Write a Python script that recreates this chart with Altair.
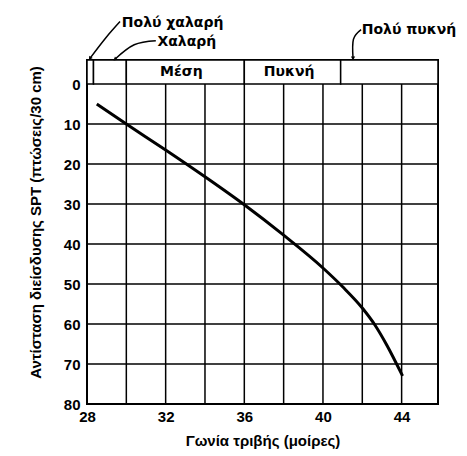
import altair as alt
import pandas as pd

# --- data ---
curve_x = [28.5, 30.0, 32.0, 34.0, 36.0, 38.0, 40.0, 41.0, 42.0, 42.65, 43.25, 44.05]
curve_y = [5.0, 10.0, 16.5, 23.2, 30.2, 37.8, 46.0, 50.7, 56.0, 60.3, 65.3, 73.0]

band_start = [28.0, 28.33, 30.0, 36.0, 40.9]
band_end = [28.33, 30.0, 36.0, 40.9, 45.85]

band_label = ["Μέση", "Πυκνή"]
band_label_x = [32.8, 38.28]

ann_text = ["Πολύ χαλαρή", "Χαλαρή", "Πολύ πυκνή"]
ann_x = [29.77, 31.58, 41.97]
ann_y = [-15.3, -10.6, -13.5]

leader_group = ["a", "a", "a", "b", "b", "b", "c", "c", "c"]
leader_x = [29.68, 28.95, 28.15, 31.50, 30.40, 29.42, 41.94, 41.55, 41.53]
leader_y = [-15.6, -11.5, -6.4, -10.8, -9.8, -6.2, -13.6, -11.2, -6.4]
arrow_angle = [35, 50, 0]

x_ticks = [28, 32, 36, 40, 44]
x_grid = [30, 32, 34, 36, 38, 40, 42, 44]
y_ticks = [0, 10, 20, 30, 40, 50, 60, 70, 80]
y_grid = [10, 20, 30, 40, 50, 60, 70]

X_DOMAIN = [28, 45.85]
Y_DOMAIN = [-6, 80]
FONT = "Liberation Sans"
AFONT = "DejaVu Sans"

xs = alt.Scale(domain=X_DOMAIN, nice=False, zero=False)
ys = alt.Scale(domain=Y_DOMAIN, nice=False, zero=False, reverse=True)

curve_df = pd.DataFrame({"x": curve_x, "y": curve_y})
band_df = pd.DataFrame({"x": band_start, "x2": band_end})
blabel_df = pd.DataFrame({"t": band_label, "x": band_label_x})
ann_df = pd.DataFrame({"t": ann_text, "x": ann_x, "y": ann_y})
leader_df = pd.DataFrame({"g": leader_group, "x": leader_x, "y": leader_y,
                          "o": list(range(len(leader_x)))})
arrow_df = pd.DataFrame({"x": leader_x[2::3], "y": leader_y[2::3], "a": arrow_angle})
vgrid_df = pd.DataFrame({"x": x_grid})
hgrid_df = pd.DataFrame({"y": y_grid})

base_x = alt.X("x:Q", scale=xs, axis=alt.Axis(
    values=x_ticks, title="Γωνία τριβής (μοίρες)", grid=False, domain=False,
    ticks=False, labelPadding=5, labelFontSize=15, labelFontWeight="bold",
    labelFont=FONT, labelColor="black", titleFont=FONT, titleFontSize=15,
    titleFontWeight="bold", titleColor="black", titlePadding=9, labelFlush=False))
base_y = alt.Y("y:Q", scale=ys, axis=alt.Axis(
    values=y_ticks, title="Αντίσταση διείσδυσης SPT (πτώσεις/30 cm)", grid=False,
    domain=False, ticks=False, labelPadding=7, labelFontSize=15, labelFontWeight="bold",
    labelFont=FONT, labelColor="black", titleFont=FONT, titleFontSize=15,
    titleFontWeight="bold", titleColor="black", titlePadding=20, titleY=162,
    labelFlush=False))

vgrid = alt.Chart(vgrid_df).mark_rule(color="black", strokeWidth=1.5).encode(
    x=alt.X("x:Q", scale=xs), y=alt.datum(0), y2=alt.datum(80))
hgrid = alt.Chart(hgrid_df).mark_rule(color="black", strokeWidth=1.5).encode(
    y=alt.Y("y:Q", scale=ys), x=alt.datum(X_DOMAIN[0]), x2=alt.datum(X_DOMAIN[1]))

band = alt.Chart(band_df).mark_rect(fill="white", stroke="black", strokeWidth=1.5).encode(
    x=alt.X("x:Q", scale=xs), x2="x2:Q", y=alt.datum(-6), y2=alt.datum(0))

blabels = alt.Chart(blabel_df).mark_text(
    font=AFONT, fontSize=14, fontWeight="bold", color="black").encode(
    x=alt.X("x:Q", scale=xs), y=alt.datum(-3), text="t:N")

curve = alt.Chart(curve_df).mark_line(
    color="black", strokeWidth=3, interpolate="monotone").encode(x=base_x, y=base_y)

ann = alt.Chart(ann_df).mark_text(
    font=AFONT, fontSize=14, fontWeight="bold", color="black", align="left").encode(
    x=alt.X("x:Q", scale=xs), y=alt.Y("y:Q", scale=ys), text="t:N")

leaders = alt.Chart(leader_df).mark_line(
    color="black", strokeWidth=1.5, interpolate="cardinal", clip=False).encode(
    x=alt.X("x:Q", scale=xs), y=alt.Y("y:Q", scale=ys), detail="g:N", order="o:Q")

arrows = alt.Chart(arrow_df).mark_point(
    shape="triangle-down", size=18, filled=True, color="black", opacity=1, clip=False).encode(
    x=alt.X("x:Q", scale=xs), y=alt.Y("y:Q", scale=ys), angle=alt.Angle("a:Q", scale=None))

chart = alt.layer(vgrid, hgrid, band, blabels, curve, leaders, arrows, ann).properties(
    width=351, height=344,
    autosize=alt.AutoSizeParams(type="none"),
    padding={"left": 87, "top": 60, "right": 29, "bottom": 52},
    background="white",
).configure_view(stroke="black", strokeWidth=2)

chart.save("out.html", embed_options={"renderer": "svg", "actions": False})
